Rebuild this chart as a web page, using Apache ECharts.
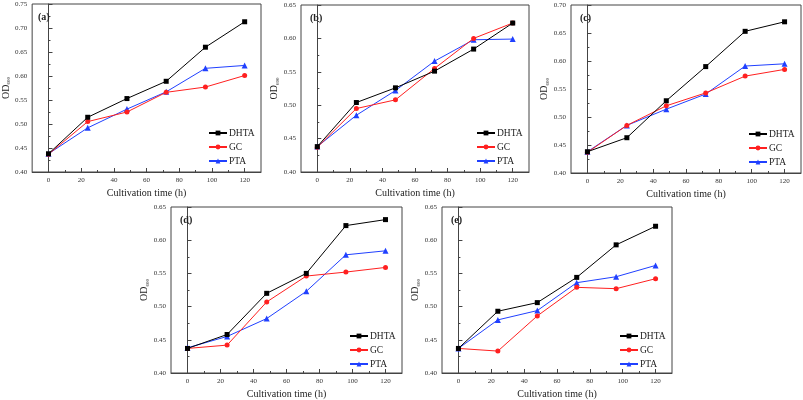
<!DOCTYPE html>
<html>
<head>
<meta charset="utf-8">
<script src="https://cdn.jsdelivr.net/npm/echarts@6/dist/echarts.min.js"></script>
<style>html,body{margin:0;padding:0;background:#fff}#c{width:803px;height:400px}</style>
</head>
<body>
<div id="c"></div>
<script>
const times = [0, 24, 48, 72, 96, 120];
const seriesNames = ['DHTA', 'GC', 'PTA'];
const panelLabels = ['(a)', '(b)', '(c)', '(d)', '(e)'];
const xTickLabels = [0, 20, 40, 60, 80, 100, 120];
const xMinorTicks = [10, 30, 50, 70, 90, 110];
const yMax = [0.75, 0.65, 0.70, 0.65, 0.65];

const a_DHTA = [0.438, 0.514, 0.553, 0.589, 0.660, 0.713];
const a_GC   = [0.437, 0.505, 0.525, 0.566, 0.577, 0.601];
const a_PTA  = [0.438, 0.492, 0.531, 0.567, 0.616, 0.622];

const b_DHTA = [0.438, 0.504, 0.526, 0.551, 0.584, 0.623];
const b_GC   = [0.437, 0.495, 0.508, 0.555, 0.600, 0.623];
const b_PTA  = [0.438, 0.485, 0.522, 0.566, 0.598, 0.599];

const c_DHTA = [0.438, 0.463, 0.529, 0.590, 0.653, 0.670];
const c_GC   = [0.437, 0.485, 0.520, 0.543, 0.573, 0.585];
const c_PTA  = [0.438, 0.485, 0.514, 0.541, 0.591, 0.595];

const d_DHTA = [0.437, 0.458, 0.520, 0.550, 0.622, 0.631];
const d_GC   = [0.437, 0.442, 0.507, 0.546, 0.552, 0.559];
const d_PTA  = [0.438, 0.455, 0.482, 0.523, 0.578, 0.584];

const e_DHTA = [0.437, 0.493, 0.506, 0.544, 0.593, 0.621];
const e_GC   = [0.437, 0.433, 0.486, 0.529, 0.527, 0.542];
const e_PTA  = [0.437, 0.480, 0.494, 0.536, 0.545, 0.562];

const panelData = [
  [a_DHTA, a_GC, a_PTA],
  [b_DHTA, b_GC, b_PTA],
  [c_DHTA, c_GC, c_PTA],
  [d_DHTA, d_GC, d_PTA],
  [e_DHTA, e_GC, e_PTA]
];

// layout (pixels)
const grids = [
  {left: 29, top: 4, width: 232, height: 168},
  {left: 301, top: 5, width: 228, height: 167},
  {left: 571, top: 5, width: 230, height: 168},
  {left: 171, top: 207, width: 231, height: 168},
  {left: 442, top: 207, width: 230, height: 168}
];
const colors = ['#000000', '#ff2020', '#2040ff'];
const symbols = ['rect', 'circle', 'triangle'];
const FONT = 'Liberation Serif';
const axisColor = '#444';

const option = {
  animation: false,
  backgroundColor: '#fff',
  grid: grids.map(g => Object.assign({show: true, borderColor: axisColor, borderWidth: 1, backgroundColor: 'transparent'}, g)),
  title: grids.map((g, i) => ({
    text: panelLabels[i], left: g.left + 4, top: g.top + 3,
    textStyle: {fontFamily: FONT, fontSize: 10, fontWeight: 'bold', color: '#222'}
  })),
  legend: grids.map((g, i) => ({
    left: g.left + g.width - 58, top: g.top + g.height - 49,
    orient: 'vertical', itemWidth: 18, itemHeight: 6, itemGap: 4,
    data: seriesNames,
    textStyle: {fontFamily: FONT, fontSize: 9.5, color: '#222', padding: [0, 0, 0, -3]}
  })),
  xAxis: [],
  yAxis: [],
  series: []
};

grids.forEach((g, i) => {
  option.xAxis.push({
    type: 'value', gridIndex: i, min: -10, max: 130,
    name: 'Cultivation time (h)', nameLocation: 'middle', nameGap: 16,
    nameTextStyle: {fontFamily: FONT, fontSize: 10, color: '#222'},
    axisLine: {show: true, lineStyle: {color: axisColor, width: 1}},
    axisTick: {show: true, inside: true, length: 4, customValues: xTickLabels, lineStyle: {color: axisColor}},
    axisLabel: {customValues: xTickLabels, fontFamily: FONT, fontSize: 7, color: '#333', margin: 5},
    splitLine: {show: false}
  });
  option.xAxis.push({
    type: 'value', gridIndex: i, min: -10, max: 130, position: 'bottom',
    axisLine: {show: false},
    axisTick: {show: true, inside: true, length: 2, customValues: xMinorTicks, lineStyle: {color: axisColor}},
    axisLabel: {show: false},
    splitLine: {show: false}
  });
  option.yAxis.push({
    type: 'value', gridIndex: i, min: 0.40, max: yMax[i], interval: 0.05,
    name: 'OD{sub|600}', nameLocation: 'middle', nameGap: 17, nameRotate: 90,
    nameTextStyle: {fontFamily: FONT, fontSize: 10, color: '#222',
      rich: {sub: {fontFamily: FONT, fontSize: 5, color: '#222', verticalAlign: 'bottom', padding: [5, 0, 0, 0]}}},
    axisLine: {show: true, lineStyle: {color: axisColor, width: 1}},
    axisTick: {show: true, inside: true, length: 4, lineStyle: {color: axisColor}},
    minorTick: {show: true, splitNumber: 2, length: 2, lineStyle: {color: axisColor}},
    axisLabel: {fontFamily: FONT, fontSize: 7, color: '#333', margin: 5, formatter: v => v.toFixed(2)},
    splitLine: {show: false}
  });
  panelData[i].forEach((vals, k) => {
    option.series.push({
      type: 'line', name: seriesNames[k], xAxisIndex: i * 2, yAxisIndex: i,
      data: times.map((t, j) => [t, vals[j]]),
      symbol: symbols[k], symbolSize: k === 2 ? 6 : 5, showSymbol: true,
      lineStyle: {color: colors[k], width: 1},
      itemStyle: {color: colors[k]},
      z: 3 - k
    });
  });
});

const chart = echarts.init(document.getElementById('c'), null, {renderer: 'canvas'});
chart.setOption(option);
</script>
</body>
</html>
